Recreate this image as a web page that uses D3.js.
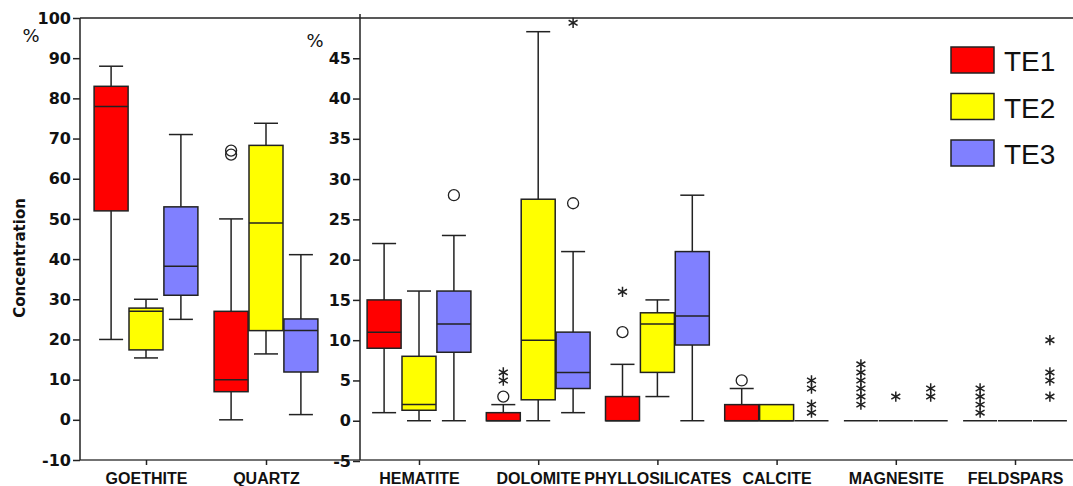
<!DOCTYPE html>
<html>
<head>
<meta charset="utf-8">
<script src="https://cdn.jsdelivr.net/npm/d3@7"></script>
<style>
  body { margin: 0; background: #fff; }
  svg text { font-family: "Liberation Sans", Arial, sans-serif; fill: #111; }
  .tick line { stroke: #222; stroke-width: 1.5; }
</style>
</head>
<body>
<div id="chart"></div>
<script>
// categories
const leftCats = ['GOETHITE', 'QUARTZ'];
const rightCats = ['HEMATITE', 'DOLOMITE', 'PHYLLOSILICATES', 'CALCITE', 'MAGNESITE', 'FELDSPARS'];
const series = ['TE1', 'TE2', 'TE3'];
const colors = ['#ff0000', '#ffff00', '#8080ff'];

// box stats per category: [min, q1, median, q3, max]
const te1Box = [
  [20, 52, 78, 83, 88], [0, 7, 10, 27, 50],
  [1, 9, 11, 15, 22], [0, 0, 0, 1, 2], [0, 0, 0, 3, 7], [0, 0, 0, 2, 4], [0, 0, 0, 0, 0], [0, 0, 0, 0, 0]
];
const te2Box = [
  [15.4, 17.4, 27, 27.8, 30], [16.4, 22.2, 49, 68.3, 73.8],
  [0, 1.3, 2, 8, 16.1], [0, 2.6, 10, 27.5, 48.3], [3, 6, 12, 13.4, 15], [0, 0, 0, 2, 2], [0, 0, 0, 0, 0], [0, 0, 0, 0, 0]
];
const te3Box = [
  [25, 31, 38.2, 53, 71], [1.3, 11.9, 22.2, 25.1, 41.1],
  [0, 8.5, 12, 16.1, 23], [1, 4, 6, 11, 21], [0, 9.4, 13, 21, 28], [0, 0, 0, 0, 0], [0, 0, 0, 0, 0], [0, 0, 0, 0, 0]
];

// outliers (circles) and extremes (stars): [category, series, value]
const circleOutliers = [
  ['QUARTZ', 'TE1', 67], ['QUARTZ', 'TE1', 66],
  ['HEMATITE', 'TE3', 28], ['DOLOMITE', 'TE1', 3], ['DOLOMITE', 'TE3', 27],
  ['PHYLLOSILICATES', 'TE1', 11], ['CALCITE', 'TE1', 5]
];
const starOutliers = [
  ['DOLOMITE', 'TE1', 5], ['DOLOMITE', 'TE1', 6], ['DOLOMITE', 'TE3', 49.4],
  ['PHYLLOSILICATES', 'TE1', 16],
  ['CALCITE', 'TE3', 5], ['CALCITE', 'TE3', 4], ['CALCITE', 'TE3', 2], ['CALCITE', 'TE3', 1],
  ['MAGNESITE', 'TE1', 7], ['MAGNESITE', 'TE1', 6], ['MAGNESITE', 'TE1', 5],
  ['MAGNESITE', 'TE1', 4], ['MAGNESITE', 'TE1', 3], ['MAGNESITE', 'TE1', 2],
  ['MAGNESITE', 'TE2', 3], ['MAGNESITE', 'TE3', 4], ['MAGNESITE', 'TE3', 3],
  ['FELDSPARS', 'TE1', 4], ['FELDSPARS', 'TE1', 3], ['FELDSPARS', 'TE1', 2], ['FELDSPARS', 'TE1', 1],
  ['FELDSPARS', 'TE3', 10], ['FELDSPARS', 'TE3', 6], ['FELDSPARS', 'TE3', 5], ['FELDSPARS', 'TE3', 3]
];

const leftTicks = d3.range(-10, 101, 10);
const rightTicks = d3.range(-5, 46, 5);

const width = 1073;
const height = 486;
const frame = {left: 80, split: 360, right: 1073, top: 18, bottom: 460};
const boxW = 34;
const capW = 24;
const ink = '#222';

const svg = d3.select('#chart').append('svg')
  .attr('width', width)
  .attr('height', height);

/* Scales */
const yL = d3.scaleLinear().domain([-10, 100]).range([frame.bottom, frame.top]);
const yR = d3.scaleLinear().domain([-5, 50]).range([frame.bottom + 1, frame.top]);
const xL = d3.scalePoint().domain(leftCats).range([146, 266]);
const xR = d3.scalePoint().domain(rightCats).range([419, 1015]);
const xIn = d3.scaleBand().domain(series).range([-52, 52]).paddingInner(0.02);

const allCats = leftCats.concat(rightCats);
const boxes = [];
[te1Box, te2Box, te3Box].forEach((arr, si) => {
  arr.forEach((s, ci) => {
    boxes.push({cat: allCats[ci], ser: series[si], color: colors[si],
      min: s[0], q1: s[1], med: s[2], q3: s[3], max: s[4]});
  });
});

function xPos(cat, ser) {
  const x = leftCats.includes(cat) ? xL : xR;
  return x(cat) + xIn(ser) + xIn.bandwidth() / 2;
}
function yFor(cat) {
  return leftCats.includes(cat) ? yL : yR;
}

/* Frame */
svg.append('line').attr('x1', frame.left).attr('x2', frame.right)
  .attr('y1', frame.top).attr('y2', frame.top).attr('stroke', ink).attr('stroke-width', 1.5);
svg.append('line').attr('x1', frame.left).attr('x2', frame.right)
  .attr('y1', frame.bottom).attr('y2', frame.bottom).attr('stroke', '#444').attr('stroke-width', 1.5);

/* Y axes */
const plainNum = d => String(d);
const axL = svg.append('g')
  .attr('transform', `translate(${frame.left},0)`)
  .call(d3.axisLeft(yL).tickValues(leftTicks).tickFormat(plainNum).tickSize(7).tickPadding(2).tickSizeOuter(0));
const axR = svg.append('g')
  .attr('transform', `translate(${frame.split},0)`)
  .call(d3.axisLeft(yR).tickValues(rightTicks).tickFormat(plainNum).tickSize(7).tickPadding(2).tickSizeOuter(0));
[axL, axR].forEach(ax => {
  ax.select('.domain').remove();
  ax.selectAll('text')
    .style('font-family', '"DejaVu Sans", sans-serif')
    .style('font-weight', 'bold')
    .style('font-size', '16px')
    .attr('fill', '#111');
});
svg.append('line').attr('x1', frame.left).attr('x2', frame.left)
  .attr('y1', frame.top).attr('y2', frame.bottom).attr('stroke', ink).attr('stroke-width', 1.5);
svg.append('line').attr('x1', frame.split).attr('x2', frame.split)
  .attr('y1', frame.top - 4).attr('y2', frame.bottom).attr('stroke', ink).attr('stroke-width', 1.5);

/* X axes */
[xL, xR].forEach(x => {
  const ax = svg.append('g')
    .attr('transform', `translate(0,${frame.bottom})`)
    .call(d3.axisBottom(x).tickSize(5).tickPadding(8).tickSizeOuter(0));
  ax.select('.domain').remove();
  ax.selectAll('text')
    .style('font-weight', 'bold')
    .style('font-size', '16px')
    .attr('fill', '#111');
});

/* Axis titles */
svg.append('text')
  .attr('transform', 'translate(25,258) rotate(-90)')
  .attr('text-anchor', 'middle')
  .style('font-family', '"DejaVu Sans", sans-serif')
  .style('font-weight', 'bold')
  .style('font-size', '15px')
  .text('Concentration');
svg.append('text').attr('x', 31).attr('y', 42).attr('text-anchor', 'middle')
  .style('font-family', '"DejaVu Sans", sans-serif')
  .style('font-size', '18px').text('%');
svg.append('text').attr('x', 315).attr('y', 47).attr('text-anchor', 'middle')
  .style('font-family', '"DejaVu Sans", sans-serif')
  .style('font-size', '18px').text('%');

/* Boxes */
const bg = svg.append('g').attr('class', 'boxes');
const box = bg.selectAll('g.box')
  .data(boxes).enter()
  .append('g')
  .attr('class', 'box');

box.each(function (d) {
  const g = d3.select(this);
  const y = yFor(d.cat);
  const cx = xPos(d.cat, d.ser);
  if (d.max > d.q3) {
    g.append('line').attr('x1', cx).attr('x2', cx).attr('y1', y(d.q3)).attr('y2', y(d.max));
    g.append('line').attr('x1', cx - capW / 2).attr('x2', cx + capW / 2).attr('y1', y(d.max)).attr('y2', y(d.max));
  }
  if (d.min < d.q1) {
    g.append('line').attr('x1', cx).attr('x2', cx).attr('y1', y(d.q1)).attr('y2', y(d.min));
    g.append('line').attr('x1', cx - capW / 2).attr('x2', cx + capW / 2).attr('y1', y(d.min)).attr('y2', y(d.min));
  }
  g.append('rect')
    .attr('x', cx - boxW / 2)
    .attr('y', y(d.q3))
    .attr('width', boxW)
    .attr('height', y(d.q1) - y(d.q3))
    .attr('fill', d.color);
  g.append('line').attr('x1', cx - boxW / 2).attr('x2', cx + boxW / 2).attr('y1', y(d.med)).attr('y2', y(d.med));
});
box.selectAll('line, rect')
  .attr('stroke', ink)
  .attr('stroke-width', 1.5);

/* Outliers */
svg.append('g').selectAll('circle')
  .data(circleOutliers).enter()
  .append('circle')
  .attr('cx', d => xPos(d[0], d[1]))
  .attr('cy', d => yFor(d[0])(d[2]))
  .attr('r', 5.5)
  .attr('fill', 'none')
  .attr('stroke', ink)
  .attr('stroke-width', 1.3);

const star = d3.symbol().type(d3.symbolAsterisk).size(75);
svg.append('g').selectAll('path')
  .data(starOutliers).enter()
  .append('path')
  .attr('d', star)
  .attr('transform', d => `translate(${xPos(d[0], d[1])},${yFor(d[0])(d[2])})`)
  .attr('fill', 'none')
  .attr('stroke', ink)
  .attr('stroke-width', 1.5);

/* Legend */
const legend = svg.append('g').attr('transform', 'translate(951,47)');
const li = legend.selectAll('g')
  .data(series).enter()
  .append('g')
  .attr('transform', (d, i) => `translate(0,${i * 46.5})`);
li.append('rect')
  .attr('width', 43).attr('height', 26)
  .attr('fill', (d, i) => colors[i])
  .attr('stroke', ink).attr('stroke-width', 1.5);
li.append('text')
  .attr('x', 53).attr('y', 24)
  .style('font-size', '28px')
  .text(d => d);
</script>
</body>
</html>
